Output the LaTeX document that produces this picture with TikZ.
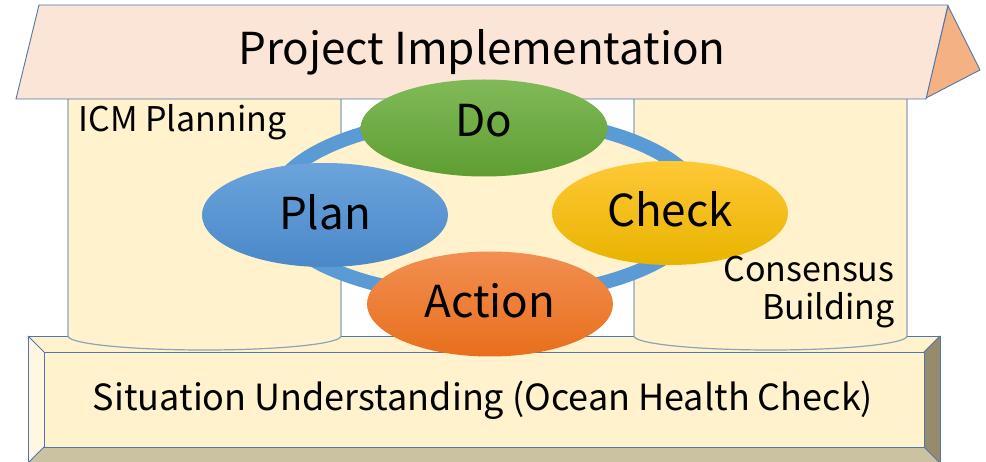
\documentclass[tikz,border=0pt]{standalone}
\usepackage{fontspec}
\setmainfont{Noto Sans CJK JP}
\usetikzlibrary{shapes.geometric}
\definecolor{edgeblue}{HTML}{4F76A6}
\definecolor{pillaredge}{HTML}{8CA3BC}
\definecolor{cream}{HTML}{FFF2CC}
\definecolor{creamlight}{HTML}{FFF7E2}
\definecolor{bevdark}{HTML}{978B6E}
\definecolor{bevbottom}{HTML}{CBC2A2}
\definecolor{roofpink}{HTML}{FBE5D6}
\definecolor{roofside}{HTML}{F4B183}
\definecolor{ringblue}{HTML}{5B9BD5}
\definecolor{plantop}{HTML}{6BA4DC}
\definecolor{planbot}{HTML}{4A88C8}
\definecolor{dotop}{HTML}{80BA58}
\definecolor{dobot}{HTML}{5E9E32}
\definecolor{checktop}{HTML}{FFC836}
\definecolor{checkbot}{HTML}{E8B400}
\definecolor{actiontop}{HTML}{F28F52}
\definecolor{actionbot}{HTML}{E86F1C}
\tikzset{
  face/.style={draw=edgeblue, line width=0.9pt, line join=round},
  pillar/.style={draw=pillaredge, line width=1.2pt, fill=cream},
  pdca/.style={ellipse, inner sep=0pt, minimum width=#1, text depth=0pt},
  bigtxt/.style={font=\fontsize{44}{50}\selectfont},
  midtxt/.style={font=\fontsize{34}{38}\selectfont},
}
\begin{document}
\begin{tikzpicture}[x=1pt,y=-1pt]
\useasboundingbox (0,0) rectangle (986,462);
% base (bevelled slab)
\fill[cream] (28,336) -- (940,336) -- (924,352) -- (44,352) -- cycle;
\fill[creamlight] (28,336) -- (44,352) -- (44,447) -- (28,463) -- cycle;
\fill[bevdark] (940,336) -- (940,463) -- (924,447) -- (924,352) -- cycle;
\fill[bevbottom] (28,463) -- (44,447) -- (924,447) -- (940,463) -- cycle;
\fill[cream] (44,352) rectangle (924,447);
\draw[face] (28,336) rectangle (940,463);
\draw[face] (44,352) rectangle (924,447);
\draw[face] (28,336) -- (44,352) (940,336) -- (924,352) (28,463) -- (44,447) (940,463) -- (924,447);
% pillars
\draw[pillar] (68,99) -- (68,336) arc[start angle=180, end angle=360, x radius=136.5pt, y radius=14pt] -- (341,99);
\draw[pillar] (634,99) -- (634,336) arc[start angle=180, end angle=360, x radius=136.5pt, y radius=14pt] -- (907,99);
% roof
\draw[face, fill=roofside] (948,6) -- (980,70) -- (926,98) -- cycle;
\draw[face, fill=roofpink] (39,5) -- (948,5) -- (926,99) -- (16,99) -- cycle;
% cycle ring
\draw[ringblue, line width=14pt, fill=cream] (487,207) ellipse [x radius=215pt, y radius=90pt];
% PDCA ellipses
\node[pdca=246pt, minimum height=104pt, text height=30pt, bigtxt, top color=plantop, bottom color=planbot] (plan) at (325,215) {Plan};
\node[pdca=247pt, minimum height=97pt, text height=18pt, bigtxt, top color=dotop, bottom color=dobot] (do) at (484,128) {Do};
\node[pdca=236pt, minimum height=104pt, text height=28pt, bigtxt, top color=checktop, bottom color=checkbot] (check) at (670,213) {Check};
\node[pdca=246pt, minimum height=105pt, text height=28pt, bigtxt, top color=actiontop, bottom color=actionbot] (action) at (490,304) {Action};
% labels
\node[bigtxt, anchor=base] (proj) at (482,65) {Project Implementation};
\node[midtxt, anchor=base west] (icm) at (75,132) {ICM Planning};
\node[midtxt, anchor=base east] (cons1) at (898,282) {Consensus};
\node[midtxt, anchor=base east] (cons2) at (898,320) {Building};
\node[font=\fontsize{36}{42}\selectfont, anchor=base] (situ) at (483,410) {Situation Understanding (Ocean Health Check)};
\end{tikzpicture}
\end{document}
